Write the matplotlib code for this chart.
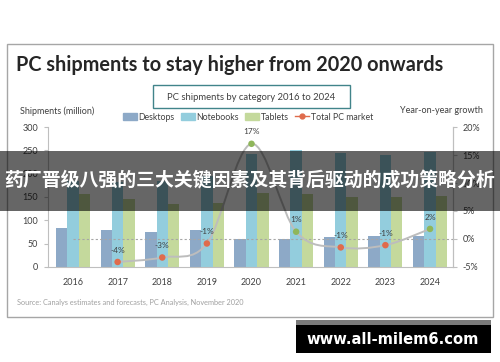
import matplotlib
matplotlib.use("Agg")
import matplotlib.pyplot as plt
from matplotlib.patches import Rectangle, Patch
from matplotlib.lines import Line2D
from matplotlib.path import Path
from matplotlib.patches import PathPatch

plt.rcParams["font.family"] = ["Lato", "DejaVu Sans"]

# data
years = ["2016", "2017", "2018", "2019", "2020", "2021", "2022", "2023", "2024"]
desktops = [83, 79, 76, 80, 60, 60, 65, 66, 66]
notebooks = [185, 183, 185, 195, 243, 251, 244, 241, 246]
tablets = [157, 146, 134, 138, 159, 157, 151, 149, 153]
growth_years = ["2017", "2018", "2019", "2020", "2021", "2022", "2023", "2024"]
growth = [-4.1, -3.3, -0.8, 17.0, 1.3, -1.5, -1.1, 1.8]
growth_labels = ["-4%", "-3%", "-1%", "17%", "1%", "-1%", "-1%", "2%"]

C_DESK = "#8DA9C7"
C_NOTE = "#93CDDD"
C_TAB = "#C4D99C"
C_LINE = "#BDBDBD"
C_NEG = "#DF6B4C"
C_POS = "#8FB65A"
C_AXIS = "#BFBFBF"
C_TXT = "#404040"

W, H = 500, 362
fig = plt.figure(figsize=(5, 3.62), dpi=100)


def fx(px):
    return px / W


def fy(py):
    return 1 - py / H


ax = fig.add_axes([fx(48), fy(267), fx(453) - fx(48), fy(127) - fy(267)])
x = list(range(len(years)))
bw = 0.255
ax.bar([i - bw for i in x], desktops, bw, color=C_DESK, zorder=2)
ax.bar(x, notebooks, bw, color=C_NOTE, zorder=2)
ax.bar([i + bw for i in x], tablets, bw, color=C_TAB, zorder=2)
ax.set_xlim(-0.56, 8.515)
ax.set_ylim(0, 300)
ax.set_yticks(range(0, 301, 50))
ax.set_xticks(x)
ax.set_xticklabels(years)
ax.spines["top"].set_visible(False)
for s in ["left", "right", "bottom"]:
    ax.spines[s].set_color(C_AXIS)
    ax.spines[s].set_linewidth(0.8)
ax.tick_params(axis="y", length=3, color=C_AXIS, labelsize=6.5, labelcolor=C_TXT, pad=4)
ax.tick_params(axis="x", length=0, labelsize=6.5, labelcolor=C_TXT, pad=8)

ax2 = ax.twinx()
ax2.set_ylim(-5, 20)
ax2.set_yticks(range(-5, 21, 5))
ax2.set_yticklabels([f"{v}%" for v in range(-5, 21, 5)])
for s in ["top", "left", "bottom"]:
    ax2.spines[s].set_visible(False)
ax2.spines["right"].set_color(C_AXIS)
ax2.spines["right"].set_linewidth(0.8)
ax2.tick_params(axis="y", length=3, color=C_AXIS, labelsize=6.5, labelcolor=C_TXT, pad=4)

# zero growth reference line
ax2.plot([0, 8.515], [0, 0], color="#A6A6A6", lw=0.8, ls=(0, (2, 2)), zorder=1)

# smoothed total market line (bezier through the points)
gx = [years.index(y) for y in growth_years]
pts = list(zip(gx, growth))
verts = [pts[0]]
codes = [Path.MOVETO]
n = len(pts)
for i in range(n - 1):
    p0 = pts[max(i - 1, 0)]
    p1 = pts[i]
    p2 = pts[i + 1]
    p3 = pts[min(i + 2, n - 1)]
    c1 = (p1[0] + (p2[0] - p0[0]) / 6, p1[1] + (p2[1] - p0[1]) / 6)
    c2 = (p2[0] - (p3[0] - p1[0]) / 6, p2[1] - (p3[1] - p1[1]) / 6)
    verts += [c1, c2, p2]
    codes += [Path.CURVE4] * 3
ax2.add_patch(PathPatch(Path(verts, codes), facecolor="none", edgecolor=C_LINE, lw=1.4, zorder=3))
colors = [C_POS if v > 0 else C_NEG for v in growth]
ax2.scatter(gx, growth, s=22, c=colors, zorder=4, linewidths=0)
for xi, v, lab in zip(gx, growth, growth_labels):
    ax2.annotate(lab, (xi, v), xytext=(0, 6), textcoords="offset points",
                 ha="center", va="bottom", fontsize=6, color=C_TXT, zorder=5)

# frame and texts
fig.patches.append(Rectangle((fx(7), fy(317)), fx(493) - fx(7), fy(44) - fy(317),
                             transform=fig.transFigure, fill=False, edgecolor="#A6A6A6", lw=1))
fig.text(fx(16), fy(71), "PC shipments to stay higher from 2020 onwards", fontsize=14.3,
         fontweight="bold", color="#262626", ha="left", va="baseline")
fig.patches.append(Rectangle((fx(153), fy(108)), fx(350) - fx(153), fy(85) - fy(108),
                             transform=fig.transFigure, fill=False, edgecolor="#41848A", lw=1))
fig.text(fx(251.5), fy(97), "PC shipments by category 2016 to 2024", fontsize=6.8,
         color=C_TXT, ha="center", va="center")
fig.text(fx(20), fy(111), "Shipments (million)", fontsize=6.5, color=C_TXT, ha="left", va="center")
fig.text(fx(483), fy(111), "Year-on-year growth", fontsize=6.5, color=C_TXT, ha="right", va="center")
fig.text(fx(17), fy(302), "Source: Canalys estimates and forecasts, PC Analysis, November 2020",
         fontsize=5.3, color="#A0A0A0", ha="left", va="center")

handles = [
    Patch(color=C_DESK, label="Desktops"),
    Patch(color=C_NOTE, label="Notebooks"),
    Patch(color=C_TAB, label="Tablets"),
    Line2D([0], [0], color=C_NEG, lw=1, marker="o", markersize=3.5, label="Total PC market"),
]
fig.legend(handles=handles, loc="center", bbox_to_anchor=(fx(248), fy(117)), ncol=4,
           frameon=False, fontsize=6.3, handlelength=1.6, handleheight=0.7,
           columnspacing=0.7, handletextpad=0.2, labelcolor=C_TXT,
           borderpad=0, borderaxespad=0)

# overlay banner
fig.patches.append(Rectangle((0, fy(211)), 1, fy(151) - fy(211), transform=fig.transFigure,
                             facecolor="black", alpha=0.6, edgecolor="none", zorder=10))
fig.text(0.5, fy(181), "药厂晋级八强的三大关键因素及其背后驱动的成功策略分析",
         family=["Noto Sans CJK SC", "DejaVu Sans"], fontweight="bold", fontsize=13.6,
         color="white", ha="center", va="center", zorder=11)

# watermark box
fig.patches.append(Rectangle((fx(296), fy(353)), fx(491) - fx(296), fy(320) - fy(353),
                             transform=fig.transFigure, facecolor="black", edgecolor="none", zorder=10))
fig.patches.append(Rectangle((fx(296), fy(325)), fx(491) - fx(296), fy(320) - fy(325),
                             transform=fig.transFigure, facecolor="#7A7A7A", edgecolor="none", zorder=11))
fig.text(fx(393), fy(339), "www.all-milem6.com", family=["DejaVu Sans"], fontweight="bold",
         fontsize=10.6, color="white", ha="center", va="center", zorder=12)

fig.savefig("out.png", dpi=100)
